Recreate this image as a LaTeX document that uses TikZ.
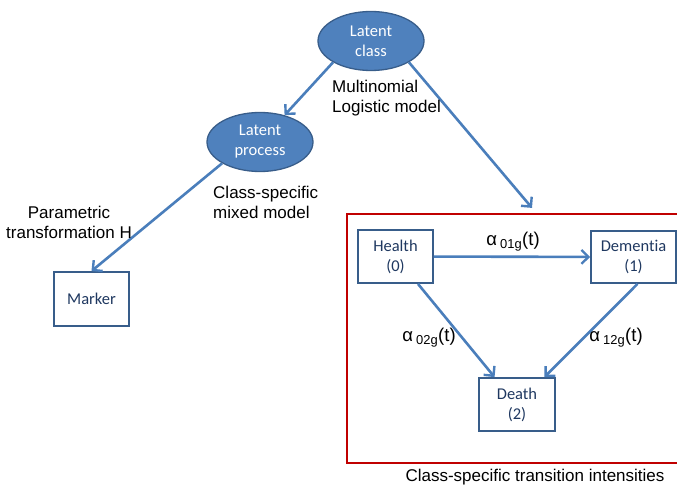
\documentclass[tikz,border=0pt]{standalone}
\usepackage{fontspec}
\setmainfont{Liberation Sans}
\newfontfamily\boxfont[Ligatures=NoCommon]{Carlito}
\usetikzlibrary{shapes.geometric,arrows.meta}

\definecolor{ellfill}{RGB}{79,129,189}
\definecolor{ellline}{RGB}{56,93,138}
\definecolor{arrowblue}{RGB}{74,126,187}
\definecolor{boxline}{RGB}{56,93,138}
\definecolor{boxtext}{RGB}{31,56,96}
\definecolor{framered}{RGB}{192,0,0}

\newcommand{\rate}[1]{α\,\textsubscript{#1}(t)}

\begin{document}
\begin{tikzpicture}[x=1pt,y=-1pt,
    latent/.style={ellipse, draw=ellline, line width=1.3pt, fill=ellfill,
      text=white, font=\boxfont\fontsize{16.5}{20}\selectfont, align=center,
      minimum width=106pt, minimum height=59pt, inner sep=0pt},
    state/.style={rectangle, draw=boxline, line width=1.8pt, text=boxtext,
      font=\boxfont\fontsize{16.5}{20}\selectfont, align=center, inner sep=0pt},
    lbl/.style={font=\fontsize{17}{20}\selectfont, inner sep=0pt},
    link/.style={draw=arrowblue, line width=2.6pt,
      -{Straight Barb[length=7pt,width=14pt,line width=2.4pt]}}]
    \clip (0,0) rectangle (677,486);

    % latent structure
    \node[latent] (cls) at (371,41) {Latent\\class};
    \node[latent] (proc) at (260,142) {Latent\\process};
    \node[state, minimum width=75pt, minimum height=54pt] (marker) at (91.5,299) {Marker};

    % multi-state part
    \node[draw=framered, line width=1.5pt, minimum width=379pt, minimum height=249pt,
      inner sep=0pt] (trans) at (536.5,338.5) {};
    \node[state, minimum width=75pt, minimum height=53pt] (health) at (395.5,256.5) {Health\\(0)};
    \node[state, minimum width=85pt, minimum height=52pt] (dementia) at (633.5,257) {Dementia\\(1)};
    \node[state, minimum width=76pt, minimum height=53pt] (death) at (517,404.5) {Death\\(2)};

    \draw[link] (cls.south west) -- (proc);
    \draw[link, shorten >=7pt] (cls.south east) -- (trans.north);
    \draw[link] (proc.south west) -- (marker.north);
    \draw[link] (health) -- (dementia);
    \draw[link] (health) -- (death);
    \draw[link] ([xshift=4pt]dementia.south) -- (death);

    % labels
    \node[lbl, align=left, anchor=west] (lmulti) at (332,98) {Multinomial\\Logistic model};
    \node[lbl, align=left, anchor=west] (lmixed) at (213,202) {Class-specific\\mixed model};
    \node[lbl, align=center] (ltrans) at (69,222) {Parametric\\transformation H};
    \node[lbl, font=\fontsize{18.5}{20}\selectfont] (l01) at (513,242) {\rate{01g}};
    \node[lbl, font=\fontsize{18.5}{20}\selectfont] (l02) at (429,338) {\rate{02g}};
    \node[lbl, font=\fontsize{18.5}{20}\selectfont] (l12) at (616,338) {\rate{12g}};
    \node[lbl] (lcap) at (535,477) {Class-specific transition intensities};
\end{tikzpicture}
\end{document}
